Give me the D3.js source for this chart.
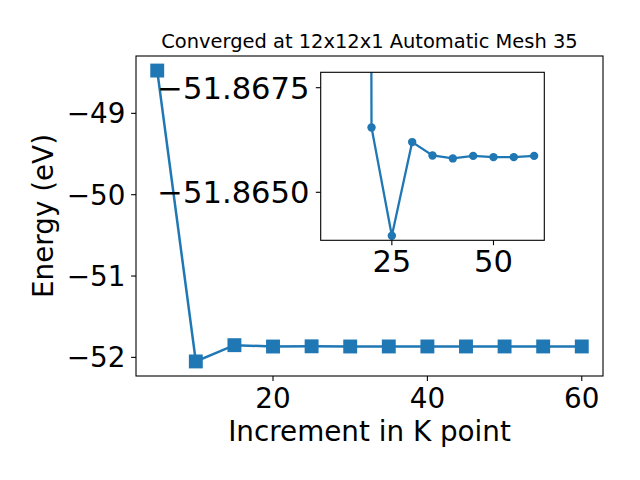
<!DOCTYPE html>
<html><head><meta charset="utf-8">
<script src="https://cdn.jsdelivr.net/npm/d3@7"></script>
<style>body{margin:0;background:#fff}text{font-family:"DejaVu Sans",sans-serif}</style>
</head><body><svg id="c" width="640" height="480"></svg>
<script>
const kPoints = [5,10,15,20,25,30,35,40,45,50,55,60];
const energy = [-48.474,-52.05,-51.85,-51.8666,-51.8640,-51.8662,-51.8659,-51.8658,-51.8659,-51.8658,-51.8658,-51.8659];
const insetK = [15,20,25,30,35,40,45,50,55,60];
const insetEnergy = [-52.05,-51.86655,-51.86396,-51.86620,-51.86588,-51.86581,-51.86587,-51.86584,-51.86584,-51.86587];
const xTicks = [20,40,60];
const yTicks = [-49,-50,-51,-52];
const insetXTicks = [25,50];
const insetYTicks = [-51.8675,-51.8650];
const title = "Converged at 12x12x1 Automatic Mesh 35";
const xLabel = "Increment in K point";
const yLabel = "Energy (eV)";
const color = "#1f77b4";

const svg = d3.select("#c");
const fmt = v => String(v).replace("-", "\u2212");
const fmt4 = v => d3.format(".4f")(v).replace("-", "\u2212");

// main axes
const L=136, R=603, T=56, B=376;
const x = d3.scaleLinear().domain([2.25,62.75]).range([L,R]);
const y = d3.scaleLinear().domain([-52.229,-48.295]).range([B,T]);

svg.append("defs").append("clipPath").attr("id","mclip").append("rect")
  .attr("x",L).attr("y",T).attr("width",R-L).attr("height",B-T);

const main = svg.append("g");
main.append("path").datum(kPoints.map((k,i)=>[k,energy[i]]))
  .attr("clip-path","url(#mclip)")
  .attr("d", d3.line().x(d=>x(d[0])).y(d=>y(d[1])))
  .attr("fill","none").attr("stroke",color).attr("stroke-width",2.5);
main.selectAll("rect.m").data(kPoints.map((k,i)=>[k,energy[i]])).enter().append("rect")
  .attr("x",d=>x(d[0])-6.95).attr("y",d=>y(d[1])-6.95).attr("width",13.9).attr("height",13.9)
  .attr("fill",color);

main.append("rect").attr("x",L).attr("y",T).attr("width",R-L).attr("height",B-T)
  .attr("fill","none").attr("stroke","#000").attr("stroke-width",1.1);

xTicks.forEach(t=>{
  main.append("line").attr("x1",x(t)).attr("x2",x(t)).attr("y1",B).attr("y2",B+4.9).attr("stroke","#000").attr("stroke-width",1.1);
  main.append("text").attr("x",x(t)).attr("y",407.5).attr("text-anchor","middle").attr("font-size",27.8).text(fmt(t));
});
yTicks.forEach(t=>{
  main.append("line").attr("x1",L-4.9).attr("x2",L).attr("y1",y(t)).attr("y2",y(t)).attr("stroke","#000").attr("stroke-width",1.1);
  main.append("text").attr("x",125.5).attr("y",y(t)+10).attr("text-anchor","end").attr("font-size",27.8).text(fmt(t));
});
svg.append("text").attr("x",(L+R)/2).attr("y",441).attr("text-anchor","middle").attr("font-size",27.8).text(xLabel);
svg.append("text").attr("transform",`translate(53,${(T+B)/2}) rotate(-90)`).attr("text-anchor","middle").attr("font-size",27.8).text(yLabel);
svg.append("text").attr("x",(L+R)/2).attr("y",48).attr("text-anchor","middle").attr("font-size",19.44).text(title);

// inset axes
const iL=320.7, iR=544.3, iT=72.3, iB=240.3;
const ix = d3.scaleLinear().domain([7.5,62.5]).range([iL,iR]);
const iy = d3.scaleLinear().domain([-51.8675,-51.8650]).range([87.7,192.3]);

svg.append("defs").append("clipPath").attr("id","iclip").append("rect")
  .attr("x",iL).attr("y",iT).attr("width",iR-iL).attr("height",iB-iT);
const ins = svg.append("g");
ins.append("rect").attr("x",iL).attr("y",iT).attr("width",iR-iL).attr("height",iB-iT).attr("fill","#fff");
const ig = ins.append("g").attr("clip-path","url(#iclip)");
const idata = insetK.map((k,i)=>[k,insetEnergy[i]]);
ig.append("path").datum(idata)
  .attr("d", d3.line().x(d=>ix(d[0])).y(d=>iy(d[1])))
  .attr("fill","none").attr("stroke",color).attr("stroke-width",2.3);
ig.selectAll("circle").data(idata).enter().append("circle")
  .attr("cx",d=>ix(d[0])).attr("cy",d=>iy(d[1])).attr("r",4.2).attr("fill",color);
ins.append("rect").attr("x",iL).attr("y",iT).attr("width",iR-iL).attr("height",iB-iT)
  .attr("fill","none").attr("stroke","#000").attr("stroke-width",1.1);
insetXTicks.forEach(t=>{
  ins.append("line").attr("x1",ix(t)).attr("x2",ix(t)).attr("y1",iB).attr("y2",iB+4.9).attr("stroke","#000").attr("stroke-width",1.1);
  ins.append("text").attr("x",ix(t)).attr("y",271.5).attr("text-anchor","middle").attr("font-size",30.6).text(fmt(t));
});
insetYTicks.forEach(t=>{
  ins.append("line").attr("x1",iL-4.9).attr("x2",iL).attr("y1",iy(t)).attr("y2",iy(t)).attr("stroke","#000").attr("stroke-width",1.1);
  ins.append("text").attr("x",309.5).attr("y",iy(t)+10.8).attr("text-anchor","end").attr("font-size",30.6).text(fmt4(t));
});
</script></body></html>
